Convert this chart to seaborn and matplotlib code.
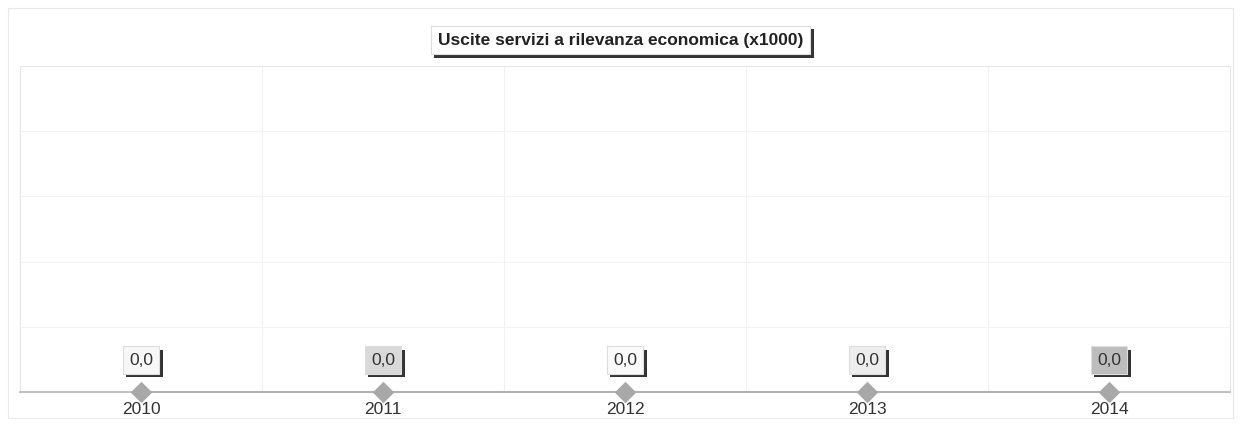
import matplotlib
matplotlib.use("Agg")
import matplotlib.pyplot as plt
import matplotlib.patheffects as pe
import seaborn as sns
import pandas as pd

years = ["2010", "2011", "2012", "2013", "2014"]
values = [0.0, 0.0, 0.0, 0.0, 0.0]
labels = ["0,0", "0,0", "0,0", "0,0", "0,0"]
box_colors = ["#f7f7f7", "#d9d9d9", "#fafafa", "#ededed", "#bdbdbd"]
title = "Uscite servizi a rilevanza economica (x1000)"

sns.set_theme(style="white")
plt.rcParams['font.family'] = ['Liberation Sans', 'DejaVu Sans']

fig = plt.figure(figsize=(12.41, 4.25), dpi=100)
ax = fig.add_axes([20/1241, 1 - 392/425, 1210/1241, 326/425])

df = pd.DataFrame({"year": years, "value": values})
df["x"] = range(len(years))
sns.lineplot(data=df, x="x", y="value", ax=ax, color="#b0b0b0", lw=1.5,
             marker="D", markersize=10, markerfacecolor="#a8a8a8",
             markeredgecolor="#a8a8a8", zorder=5, clip_on=False)

ax.set_xlim(-0.5, len(years) - 0.5)
ax.set_ylim(0, 5)
ax.set_yticks([1, 2, 3, 4])
ax.set_yticklabels([])
ax.set_xticks(df["x"])
ax.set_xticklabels(years, fontsize=12.5, color="#333333")
ax.tick_params(axis="x", length=0, pad=7)
ax.tick_params(axis="y", length=0)
ax.set_xlabel("")
ax.set_ylabel("")
for xb in [0.5, 1.5, 2.5, 3.5]:
    ax.axvline(xb, color="#f2f2f2", lw=0.8, zorder=0)
ax.grid(axis="y", color="#f2f2f2", lw=0.8)
for s in ["top", "left", "right"]:
    ax.spines[s].set_color("#e6e6e6")
    ax.spines[s].set_linewidth(0.8)
ax.spines["bottom"].set_color("#b8b8b8")

for xi, v, lab, c in zip(df["x"], values, labels, box_colors):
    ann = ax.annotate(lab, (xi, v), xytext=(0, 23), textcoords="offset points",
                      ha="center", va="center", fontsize=12.5, color="#333333",
                      bbox=dict(boxstyle="square,pad=0.35", fc=c, ec="#dddddd", lw=0.8),
                      zorder=6)
    ann.get_bbox_patch().set_path_effects([
        pe.SimplePatchShadow(offset=(2.5, -2.5), shadow_rgbFace="#333333", alpha=1.0),
        pe.Normal()])

t = fig.text(0.5, 1 - 40/425, title, ha="center", va="center", fontsize=12.5,
             fontweight="bold", color="#222222",
             bbox=dict(boxstyle="square,pad=0.4", fc="white", ec="#dddddd", lw=0.8))
t.get_bbox_patch().set_path_effects([
    pe.SimplePatchShadow(offset=(2.5, -2.5), shadow_rgbFace="#333333", alpha=1.0),
    pe.Normal()])

frame = plt.Rectangle((8/1241, 1 - 418/425), 1225/1241, 410/425, transform=fig.transFigure,
                      fill=False, ec="#e8e8e8", lw=0.8)
fig.add_artist(frame)

fig.savefig("out.png", dpi=100)
